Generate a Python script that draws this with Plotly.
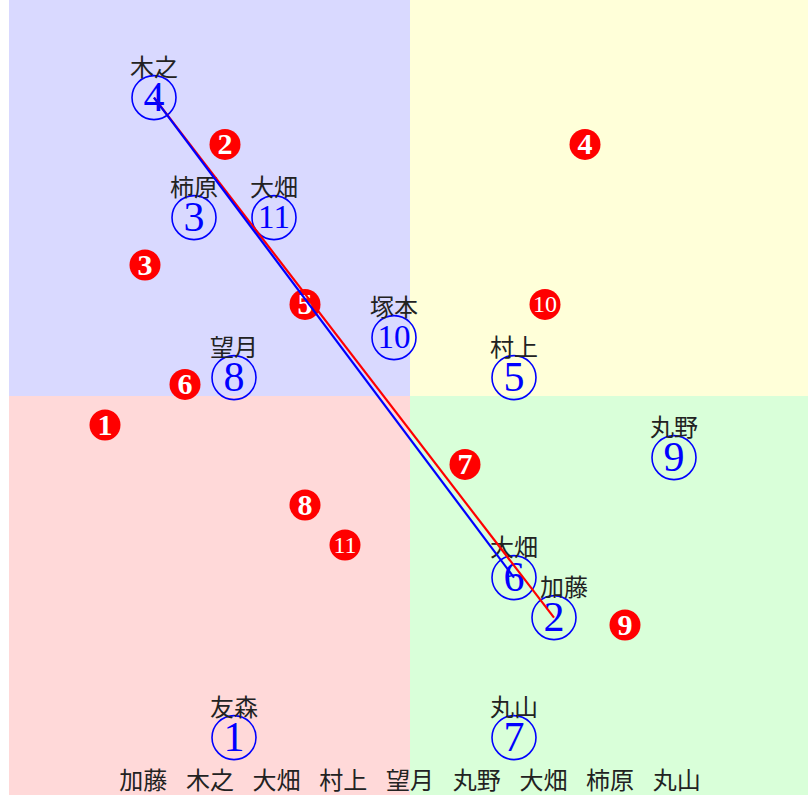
import plotly.graph_objects as go

# ---- data ----
blue_nums = [1, 2, 3, 4, 5, 6, 7, 8, 9, 10, 11]
blue_names = ["友森", "加藤", "柿原", "木之", "村上", "大畑", "丸山", "望月", "丸野", "塚本", "大畑"]
blue_x = [-4.4, 3.6, -5.4, -6.4, 2.6, 2.6, 2.6, -4.4, 6.6, -0.4, -3.4]
blue_y = [-8.54, -5.54, 4.46, 7.46, 0.46, -4.54, -8.54, 0.46, -1.54, 1.46, 4.46]

red_nums = [1, 2, 3, 4, 5, 6, 7, 8, 9, 10, 11]
red_x = [-7.625, -4.625, -6.625, 4.375, -2.625, -5.625, 1.375, -2.625, 5.375, 3.375, -1.625]
red_y = [-0.725, 6.29, 3.275, 6.29, 2.29, 0.29, -1.71, -2.725, -5.725, 2.29, -3.725]

blue_path = [4, 6]   # blue line: ④ -> ⑥
red_path = [4, 2]    # red line: ④ -> ②

bottom_words = ["加藤", "木之", "大畑", "村上", "望月", "丸野", "大畑", "柿原", "丸山"]

quad_colors = {"tl": "rgb(217,217,255)", "tr": "rgb(255,255,217)",
               "bl": "rgb(255,217,217)", "br": "rgb(217,255,217)"}

# ---- figure ----
PX = 40.0  # pixels per data unit
CJK = "Noto Sans CJK JP"
SERIF = "Liberation Serif"

fig = go.Figure()

# quadrant backgrounds
for key, (x0, x1, y0, y1) in {"tl": (-12, 0, 0, 12), "tr": (0, 12, 0, 12),
                               "bl": (-12, 0, -12, 0), "br": (0, 12, -12, 0)}.items():
    fig.add_shape(type="rect", xref="x", yref="y", x0=x0, x1=x1, y0=y0, y1=y1,
                  fillcolor=quad_colors[key], line=dict(width=0), layer="below")

# red filled circles
fig.add_trace(go.Scatter(x=red_x, y=red_y, mode="markers",
                         marker=dict(size=31, color="#ff0000", line=dict(width=0)),
                         hoverinfo="skip"))
# single-digit numbers: bold; two-digit numbers: regular, smaller
for two_digit in (False, True):
    idx = [i for i, n in enumerate(red_nums) if (n >= 10) == two_digit]
    size = 24 if two_digit else 30
    fig.add_trace(go.Scatter(x=[red_x[i] for i in idx],
                             y=[red_y[i] - (0.085 * size) / PX for i in idx],
                             mode="text", text=[str(red_nums[i]) for i in idx],
                             textposition="middle center",
                             textfont=dict(family=SERIF, size=size, color="white",
                                           weight="normal" if two_digit else "bold"),
                             hoverinfo="skip"))

# blue open circles
fig.add_trace(go.Scatter(x=blue_x, y=blue_y, mode="markers",
                         marker=dict(size=44, color="rgba(0,0,0,0)",
                                     line=dict(width=1.6, color="#0000ff")),
                         hoverinfo="skip"))
blue_sizes = [42 if n < 10 else 33 for n in blue_nums]
fig.add_trace(go.Scatter(x=blue_x,
                         y=[v - (0.08 * s) / PX for v, s in zip(blue_y, blue_sizes)],
                         mode="text", text=[str(n) for n in blue_nums],
                         textposition="middle center",
                         textfont=dict(family=SERIF, size=blue_sizes, color="#0000ff"),
                         hoverinfo="skip"))

# name labels above blue circles
label_dx = [10.0 / PX if name == "加藤" else 0.0 for name in blue_names]
fig.add_trace(go.Scatter(x=[x + d for x, d in zip(blue_x, label_dx)],
                         y=[v + 28.0 / PX for v in blue_y],
                         mode="text", text=blue_names, textposition="middle center",
                         textfont=dict(family=CJK, size=24, color="#222222"),
                         hoverinfo="skip"))

# bottom row of names
pitch = 66.7 / PX
mid = (len(bottom_words) - 1) / 2
fig.add_trace(go.Scatter(x=[(i - mid) * pitch for i in range(len(bottom_words))],
                         y=[-9.68] * len(bottom_words),
                         mode="text", text=bottom_words, textposition="middle center",
                         textfont=dict(family=CJK, size=24, color="#222222"),
                         hoverinfo="skip", cliponaxis=False))

# connecting lines
def path_xy(path):
    return ([blue_x[blue_nums.index(n)] for n in path],
            [blue_y[blue_nums.index(n)] for n in path])

rx, ry = path_xy(red_path)
fig.add_trace(go.Scatter(x=rx, y=ry, mode="lines", line=dict(color="#ff0000", width=2.2),
                         hoverinfo="skip"))
bx, by = path_xy(blue_path)
fig.add_trace(go.Scatter(x=bx, y=by, mode="lines", line=dict(color="#0000ff", width=2.2),
                         hoverinfo="skip"))

fig.update_layout(
    width=808, height=795,
    margin=dict(l=9, r=0, t=0, b=0, pad=0),
    paper_bgcolor="white", plot_bgcolor="white",
    showlegend=False,
    xaxis=dict(range=[-10.025, 9.95], visible=False, fixedrange=True),
    yaxis=dict(range=[-9.975, 9.9], visible=False, fixedrange=True),
)

fig.write_html("out.html", config={"displayModeBar": False})

# remove the default page margin so the figure sits at the window's top-left corner
with open("out.html", encoding="utf-8") as f:
    html = f.read()
html = html.replace("<head>", "<head><style>html,body{margin:0;padding:0;overflow:hidden;}</style>", 1)
with open("out.html", "w", encoding="utf-8") as f:
    f.write(html)
